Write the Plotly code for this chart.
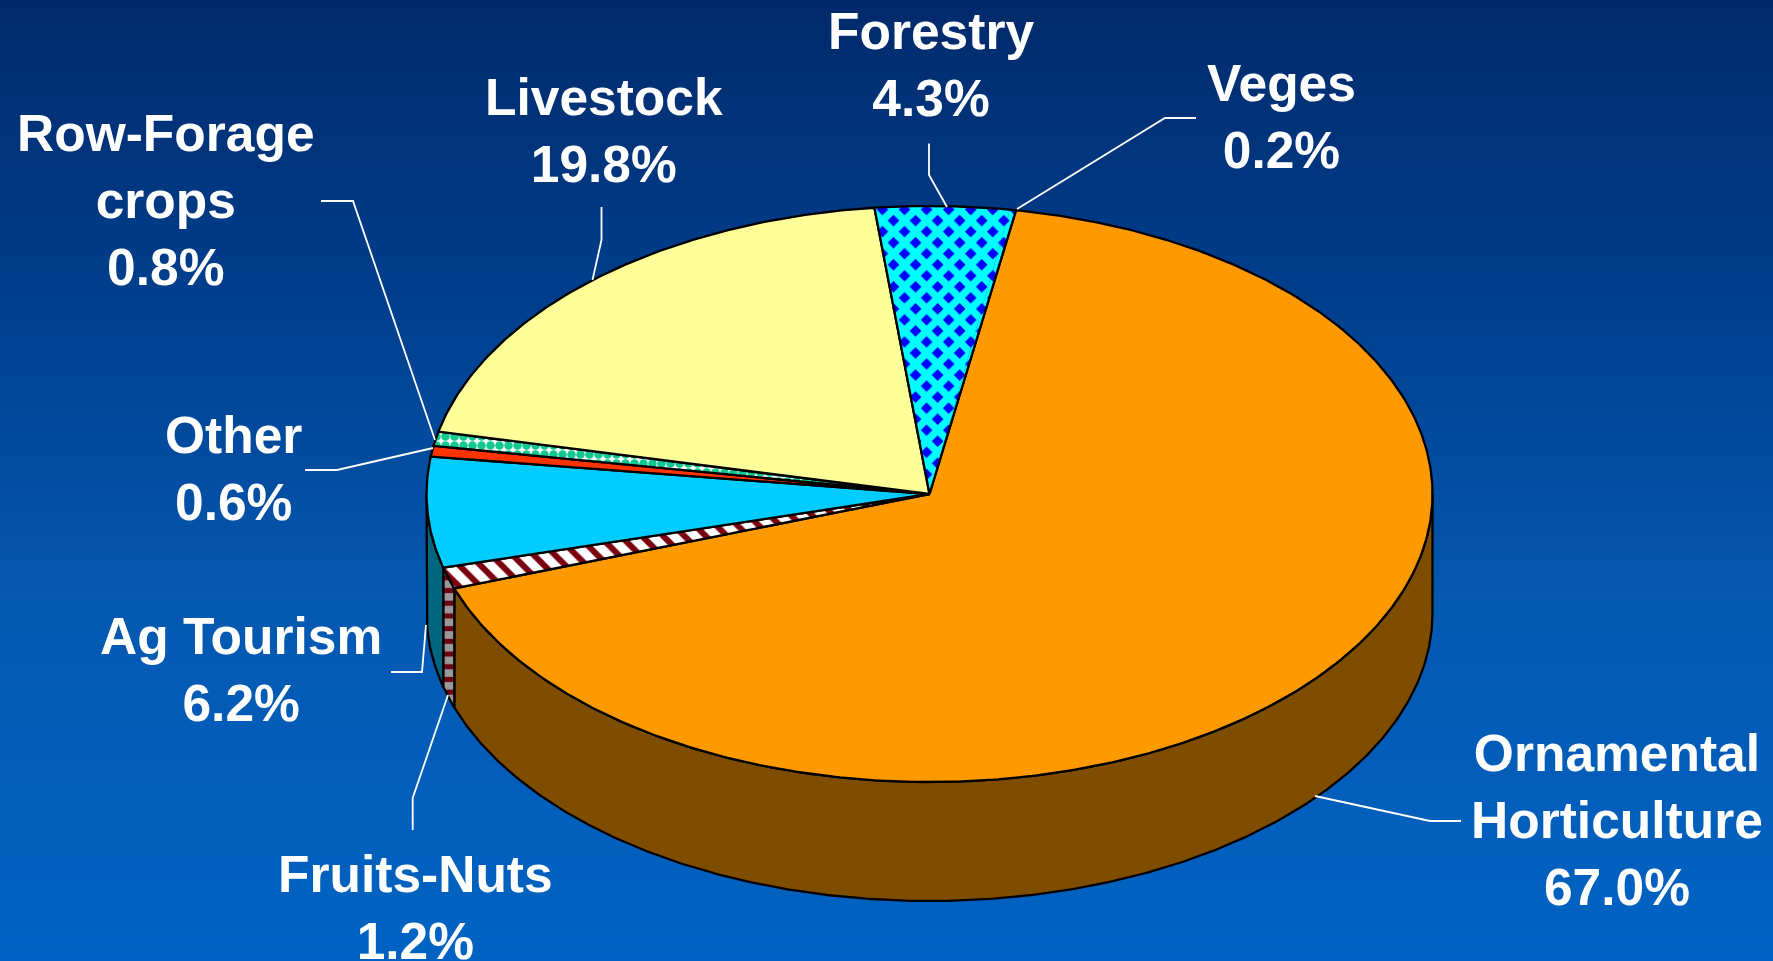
import math
import plotly.graph_objects as go

# ---- data (percent of total) ----
categories = ["Ornamental<br>Horticulture", "Fruits-Nuts", "Ag Tourism", "Other",
              "Row-Forage<br>crops", "Livestock", "Forestry", "Veges"]
values = [67.0, 1.2, 6.2, 0.6, 0.8, 19.8, 4.3, 0.2]

# ---- styling / layout (pixel-space axes: x 0..1773, y 961..0) ----
W, H = 1773, 961
CX, CY, RX, RY, DEPTH = 929.5, 494.0, 503.0, 288.0, 119.0
START_DEG = 9.9
FONT = "Liberation Sans"
TOP_COLORS = ["#FF9900", "#800000", "#00CCFF", "#FF3300", "#10C890", "#FFFF99", "#0000FF", "#0000FF"]
WALL_COLORS = ["#7F4D00", "#808080", "#006680", "#801A00", "#086448", "#80804D", "#000080", "#808080"]
DIAMONDS = dict(shape="x", fgcolor="#00FFFF", bgcolor="#0000FF", size=15.6, solidity=0.72,
                fgopacity=1, fillmode="replace")
PATTERNS = {
    1: dict(shape="\\", fgcolor="#7A0010", bgcolor="#FFFFFF", size=15, solidity=0.4,
            fgopacity=1, fillmode="replace"),
    4: dict(shape=".", fgcolor="#10C890", bgcolor="#FFFFFF", size=9, solidity=0.7,
            fgopacity=1, fillmode="replace"),
    6: DIAMONDS,
    7: DIAMONDS,
}
WALL_PATTERNS = {
    1: dict(shape="-", fgcolor="#6A0010", bgcolor="#999999", size=12.7, solidity=0.4,
            fgopacity=1, fillmode="replace"),
}
LABEL_POS = [(1617, 820), (415, 907), (241, 669), (233, 468), (166, 200), (604, 130), (930.6, 64), (1281, 116)]
LEADERS = [
    [(1315, 796), (1430, 821), (1461, 821)],
    [(448, 695), (412.7, 798), (412.7, 830)],
    [(426, 625), (422, 672), (391, 672)],
    [(433, 448), (337, 470), (305, 470)],
    [(435, 440), (353, 201), (321, 201)],
    [(592.5, 280), (601.5, 240), (601.5, 207)],
    [(947, 207), (929, 175), (929, 143.6)],
    [(1017, 209), (1165, 118), (1196, 118)],
]


def rim(deg, dy=0.0):
    t = math.radians(deg)
    return CX + RX * math.sin(t), CY - RY * math.cos(t) + dy


def arc(a, b, dy=0.0):
    n = max(2, int(abs(b - a) * 2) + 1)
    return [rim(a + (b - a) * i / (n - 1), dy) for i in range(n)]


total = sum(values)
spans = []
angle = START_DEG
for v in values:
    sweep = v / total * 360.0
    spans.append((angle, angle + sweep))
    angle += sweep

fig = go.Figure()

# background gradient
stops_y = [0, 320, 600, 961]
stops_c = ["#012A6B", "#00408F", "#0558B0", "#0063C3"]
fig.add_trace(go.Heatmap(
    x=[0, W], y=list(range(H + 1)), z=[[y, y] for y in range(H + 1)],
    zmin=0, zmax=H, showscale=False, hoverinfo="skip",
    colorscale=[[y / H, c] for y, c in zip(stops_y, stops_c)],
))


def poly(points, color, pattern=None, name=None, outlined=True):
    xs = [p[0] for p in points] + [points[0][0]]
    ys = [p[1] for p in points] + [points[0][1]]
    kw = dict(fillpattern=pattern) if pattern else {}
    fig.add_trace(go.Scatter(
        x=xs, y=ys, mode="lines", fill="toself", fillcolor=color,
        line=dict(color="#000000", width=2.3 if outlined else 0),
        hoverinfo="skip", name=name, **kw,
    ))


def outline(points):
    fig.add_trace(go.Scatter(
        x=[p[0] for p in points], y=[p[1] for p in points], mode="lines",
        line=dict(color="#000000", width=2.3), hoverinfo="skip",
    ))


# side walls (visible part of the rim: 90..270 degrees)
for i, (a, b) in enumerate(spans):
    lo, hi = max(a, 90.0), min(b, 270.0)
    if hi <= lo:
        continue
    poly(arc(lo, hi) + arc(hi, lo, DEPTH), WALL_COLORS[i], WALL_PATTERNS.get(i), categories[i])

# top surface; Forestry and Veges share one fill, so no edge is drawn between them
FOR, VEG = 6, 7
for i, (a, b) in enumerate(spans):
    if i in (FOR, VEG):
        continue
    poly([(CX, CY)] + arc(a, b), TOP_COLORS[i], PATTERNS.get(i), categories[i])
for i in (FOR, VEG):
    a, b = spans[i]
    poly([(CX, CY)] + arc(a, b), TOP_COLORS[i], PATTERNS.get(i), categories[i], outlined=False)
outline([(CX, CY)] + arc(spans[FOR][0], spans[VEG][1]) + [(CX, CY)])

# leader lines
for pts in LEADERS:
    fig.add_trace(go.Scatter(
        x=[p[0] for p in pts], y=[p[1] for p in pts], mode="lines",
        line=dict(color="#FFFFFF", width=1.8), hoverinfo="skip",
    ))

# labels
annotations = []
for name, v, (x, y) in zip(categories, values, LABEL_POS):
    annotations.append(dict(
        x=x, y=y, xref="x", yref="y", showarrow=False, align="center",
        xanchor="center", yanchor="middle",
        text=f"<b>{name}<br>{v:.1f}%</b>",
        font=dict(family=FONT, size=51.5, color="#FFFFFF"),
    ))

fig.update_layout(
    width=W, height=H, margin=dict(l=0, r=0, t=0, b=0), showlegend=False,
    paper_bgcolor="#0040A0", plot_bgcolor="#0040A0",
    xaxis=dict(range=[0, W], visible=False, fixedrange=True),
    yaxis=dict(range=[H, 0], visible=False, fixedrange=True),
    annotations=annotations,
)

fig.write_html("out.html", config=dict(displayModeBar=False),
               post_script="document.body.style.margin='0';document.body.style.overflow='hidden';")
